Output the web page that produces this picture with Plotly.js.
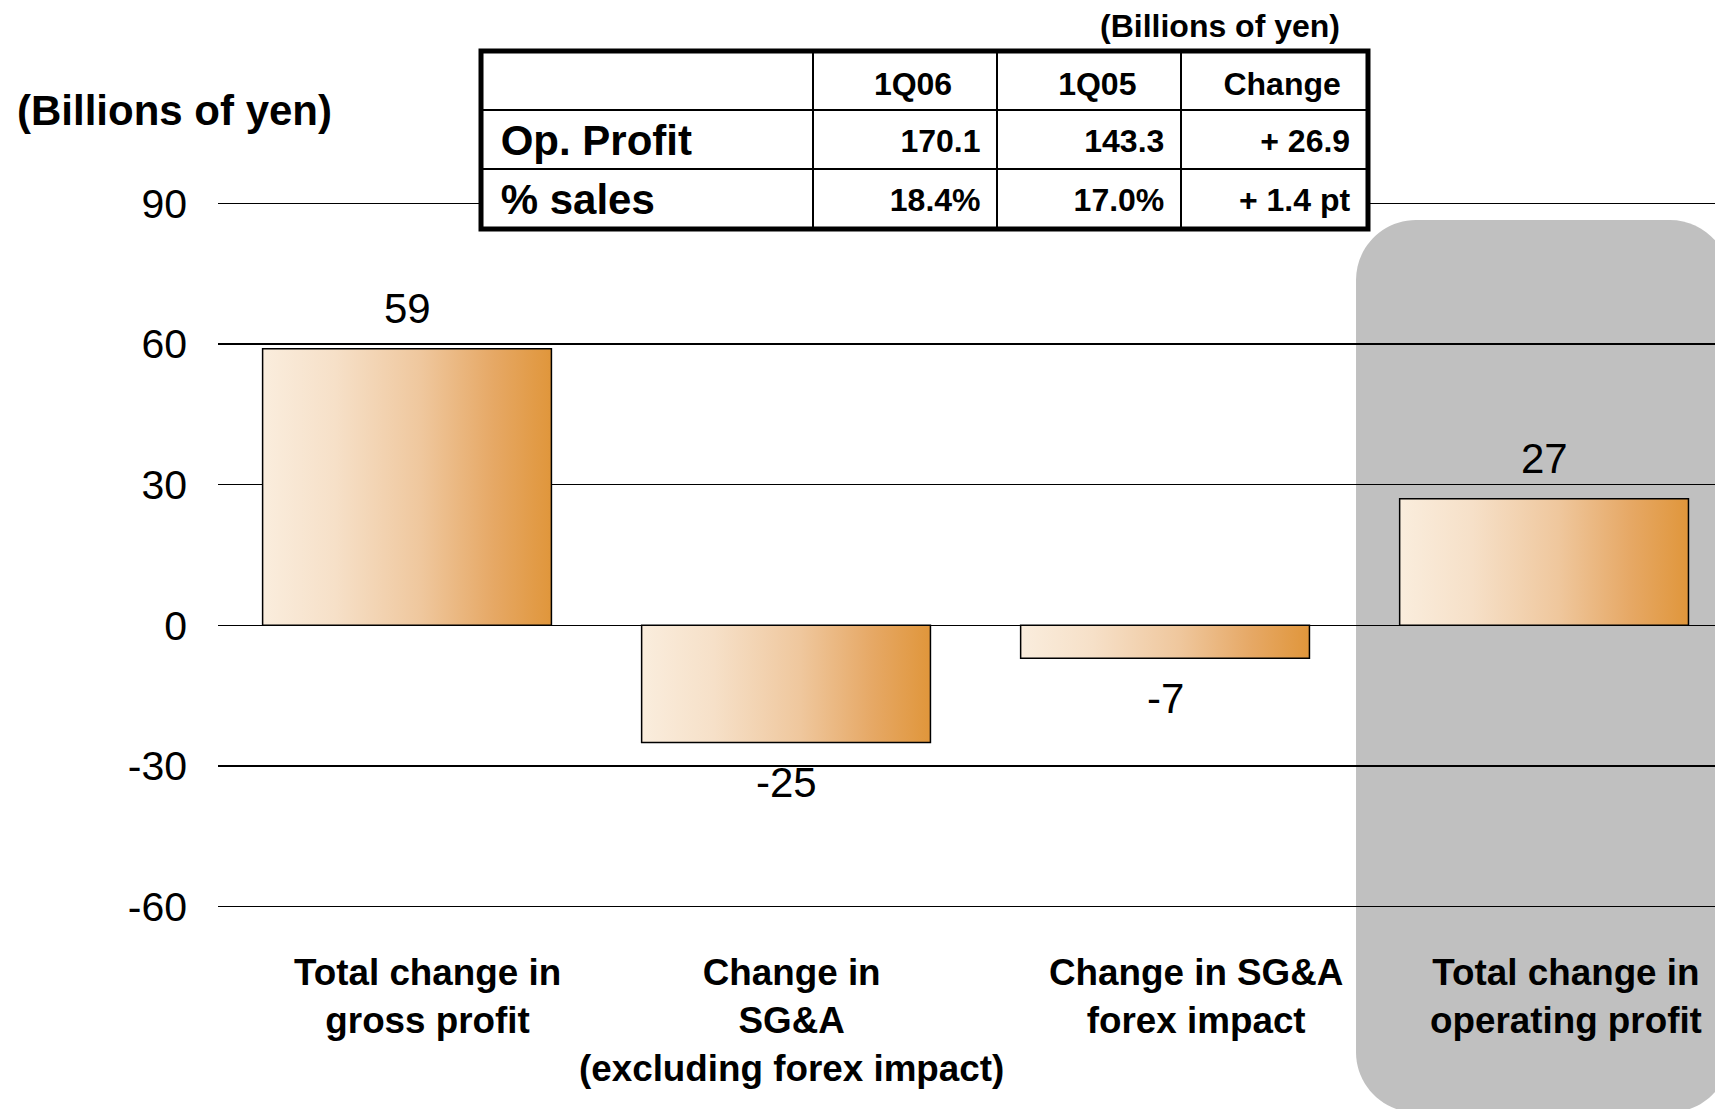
<!DOCTYPE html>
<html>
<head>
<meta charset="utf-8">
<script src="https://cdn.plot.ly/plotly-3.0.1.min.js"></script>
<style>html,body{margin:0;padding:0;background:#fff;}#chart{width:1715px;height:1109px;}</style>
</head>
<body>
<div id="chart"></div>
<script>
// ---- data ----
const categories = ['Total change in<br>gross profit', 'Change in<br>SG&A<br>(excluding forex impact)', 'Change in SG&A<br>forex impact', 'Total change in<br>operating profit'];
const opProfitChange = [59, -25, -7, 27];
const yTicks = [-60, -30, 0, 30, 60, 90];
const yTickText = ['-60', '-30', '0', '30', '60', '90'];
const tableHeader = ['', '1Q06', '1Q05', 'Change'];
const rowLabels = ['Op. Profit', '% sales'];
const col1Q06 = ['170.1', '18.4%'];
const col1Q05 = ['143.3', '17.0%'];
const colChange = ['+ 26.9', '+ 1.4 pt'];
const unitText = '(Billions of yen)';

// ---- styling ----
const FONT = 'Liberation Sans, Arial, Helvetica, sans-serif';
const labelXShift = [20, 5, 31, 22];
const nb = '\u00a0';

const bar = {
  type: 'bar',
  x: categories,
  y: opProfitChange,
  width: 0.762,
  marker: {color: '#eab27a', line: {color: '#000', width: 1.5}},
  hoverinfo: 'skip',
  cliponaxis: false
};

const table = {
  type: 'table',
  domain: {x: [0.17569, 0.76820], y: [0.79351, 0.95401]},
  columnwidth: [332, 185, 184, 186],
  header: {
    values: tableHeader,
    align: 'center',
    height: 59,
    line: {color: '#000', width: 2},
    fill: {color: '#fff'},
    font: {family: FONT, size: 32, color: '#000', weight: 'bold'}
  },
  cells: {
    values: [rowLabels.map(s => nb + s), col1Q06.map(s => s + nb), col1Q05.map(s => s + nb), colChange.map(s => s + nb)],
    align: ['left', 'right', 'right', 'right'],
    height: 59,
    line: {color: '#000', width: 2},
    fill: {color: '#fff'},
    font: {family: FONT, size: [42, 32, 32, 32], color: '#000', weight: 'bold'}
  }
};

// gray rounded highlight box (paper coordinates)
function roundRect(x0, x1, y0, y1, rx, ry) {
  const k = 0.4477;
  return `M${x0+rx},${y1} L${x1-rx},${y1} C${x1-rx*k},${y1} ${x1},${y1-ry*k} ${x1},${y1-ry} ` +
         `L${x1},${y0+ry} C${x1},${y0+ry*k} ${x1-rx*k},${y0} ${x1-rx},${y0} ` +
         `L${x0+rx},${y0} C${x0+rx*k},${y0} ${x0},${y0+ry*k} ${x0},${y0+ry} ` +
         `L${x0},${y1-ry} C${x0},${y1-ry*k} ${x0+rx*k},${y1} ${x0+rx},${y1} Z`;
}

const annotations = [];
opProfitChange.forEach((v, i) => {
  annotations.push({
    x: categories[i], y: v, xref: 'x', yref: 'y',
    text: String(v), showarrow: false,
    yshift: v >= 0 ? 40 : -40, yanchor: 'middle',
    font: {family: FONT, size: 42, color: '#000'}
  });
  annotations.push({
    x: categories[i], y: 0.14337, xref: 'x', yref: 'paper',
    text: categories[i], showarrow: false, yanchor: 'top', xshift: labelXShift[i],
    font: {family: FONT, size: 36.8, color: '#000', weight: 'bold'}
  });
});
annotations.push({
  x: -0.1356, y: 0.90036, xref: 'paper', yref: 'paper', xanchor: 'left', yanchor: 'middle',
  text: unitText, showarrow: false, font: {family: FONT, size: 42, color: '#000', weight: 'bold'}
});
annotations.push({
  x: 0.75083, y: 0.97655, xref: 'paper', yref: 'paper', xanchor: 'right', yanchor: 'middle',
  text: unitText, showarrow: false, font: {family: FONT, size: 32, color: '#000', weight: 'bold'}
});

const layout = {
  width: 1715, height: 1109,
  margin: {l: 218, r: 0, t: 0, b: 0},
  paper_bgcolor: '#fff', plot_bgcolor: 'rgba(0,0,0,0)',
  showlegend: false,
  font: {family: FONT, color: '#000'},
  xaxis: {
    type: 'category', range: [-0.4987, 3.451], showticklabels: false,
    showgrid: false, zeroline: false, showline: false, ticks: '', fixedrange: true
  },
  yaxis: {
    domain: [0.17403, 0.82507], range: [-62, 92], tickvals: yTicks, ticktext: yTickText,
    showgrid: true, gridcolor: '#000', gridwidth: 1.5, zeroline: false, showline: false,
    ticks: '', ticklabelstandoff: 30, tickfont: {family: FONT, size: 41, color: '#000'},
    fixedrange: true
  },
  shapes: [
    {type: 'path', xref: 'paper', yref: 'paper', layer: 'below',
     path: roundRect(0.7602, 1.0100, -0.0030, 0.8016, 0.04008, 0.0541),
     fillcolor: '#c0c0c0', line: {width: 0}},
    {type: 'rect', xref: 'paper', yref: 'paper', layer: 'above',
     x0: 0.17569, x1: 0.76820, y0: 0.79351, y1: 0.95401,
     line: {color: '#000', width: 5}, fillcolor: 'rgba(0,0,0,0)'}
  ],
  annotations: annotations
};

Plotly.newPlot('chart', [bar, table], layout, {displayModeBar: false, staticPlot: true}).then(gd => {
  const svg = gd.querySelector('.main-svg');
  const ns = 'http://www.w3.org/2000/svg';
  let defs = svg.querySelector('defs');
  if (!defs) { defs = document.createElementNS(ns, 'defs'); svg.insertBefore(defs, svg.firstChild); }
  const grad = document.createElementNS(ns, 'linearGradient');
  grad.setAttribute('id', 'barGrad');
  grad.setAttribute('x1', '0'); grad.setAttribute('x2', '1');
  grad.setAttribute('y1', '0'); grad.setAttribute('y2', '0');
  [['0', '#faeddd'], ['0.25', '#f6e0c8'], ['0.55', '#efc79d'], ['0.8', '#e6a865'], ['1', '#e0963b']].forEach(([o, c]) => {
    const s = document.createElementNS(ns, 'stop');
    s.setAttribute('offset', o); s.setAttribute('stop-color', c);
    grad.appendChild(s);
  });
  defs.appendChild(grad);
  gd.querySelectorAll('.bars .point path').forEach(p => { p.style.fill = 'url(#barGrad)'; });

  // vertically centre the table text (Plotly tables place text at the cell top)
  gd.querySelectorAll('.table .cell-text').forEach(t => {
    const fs = parseFloat(t.style.fontSize || '32');
    const txt = t.textContent.replace(/\u00a0/g, '').trim();
    const isHeader = tableHeader.indexOf(txt) >= 0 && txt !== '';
    const dy = isHeader ? 12 : (fs > 36 ? 5 : 10);
    const dx = isHeader ? 8 : 0;
    const tr = t.getAttribute('transform') || '';
    t.setAttribute('transform', tr + ` translate(${dx},${dy})`);
  });
});
</script>
</body>
</html>
